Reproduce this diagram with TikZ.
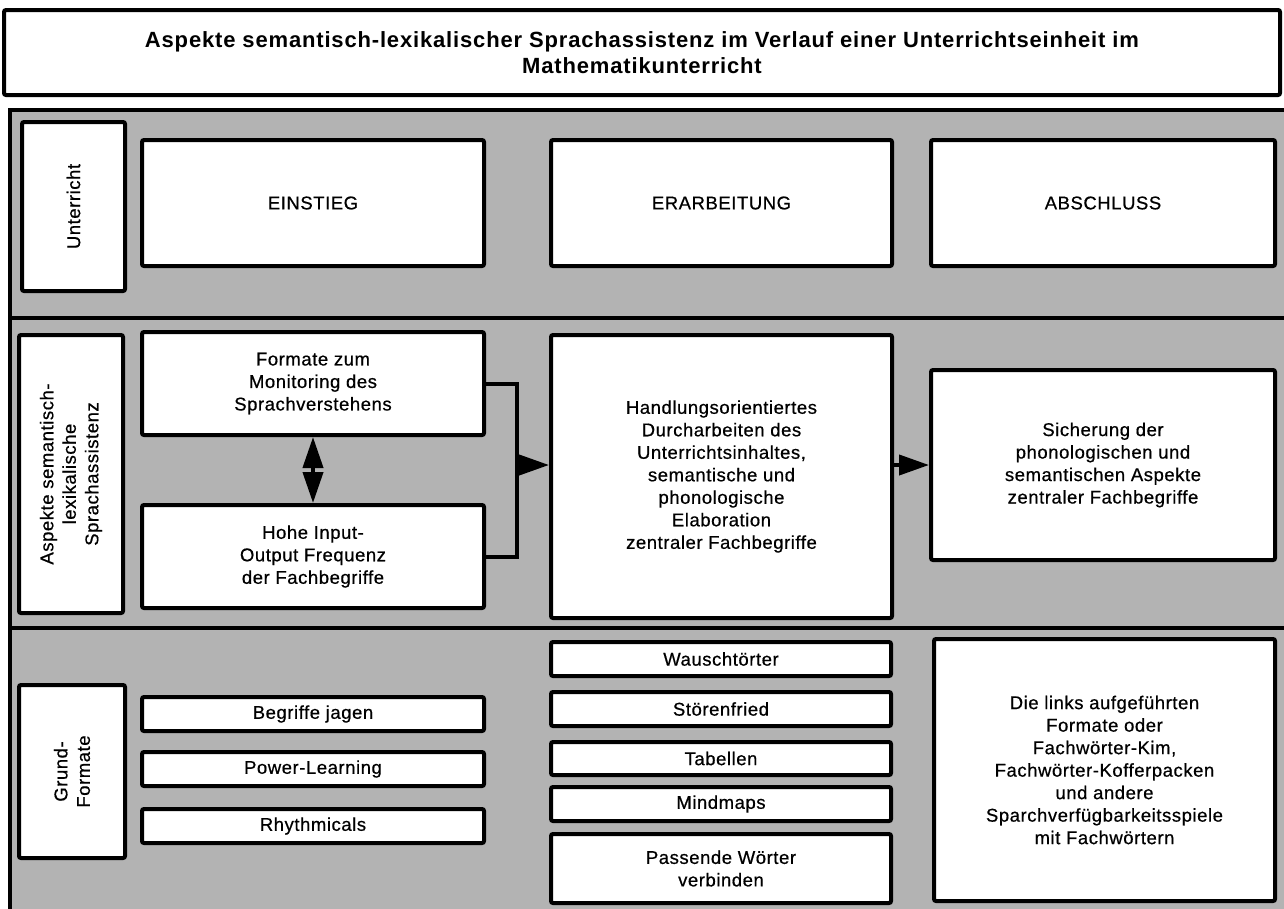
\documentclass[tikz,border=0pt]{standalone}
\usepackage{fontspec}
\setmainfont{Liberation Sans}
\newfontfamily\boxfont[LetterSpace=3,FakeBold=0.6]{Liberation Sans}
\newfontfamily\titlefont[LetterSpace=3.8]{Liberation Sans}
\usetikzlibrary{arrows.meta}
\definecolor{panelgray}{RGB}{179,179,179}

\begin{document}
\begin{tikzpicture}[
  x=1pt, y=-1pt,
  box/.style={draw, line width=4pt, fill=white, rounded corners=2pt,
    align=center, inner sep=2pt, font=\boxfont\fontsize{18.5}{22.5}\selectfont},
  sidebox/.style={box, rotate=90},
  bar/.style={line width=4.5pt},
  arr/.style={line width=4pt, -{Triangle[length=30pt,width=20pt]}},
  twoarr/.style={line width=4pt,
    {Triangle[length=31pt,width=20pt]}-{Triangle[length=31pt,width=20pt]}},
  % show background grid
  ]
  \clip (0,0) rectangle (1284,908);

  \node[box, minimum width=1276, minimum height=85,
    font=\titlefont\bfseries\fontsize{22}{25.5}\selectfont] (title) at (642,52.5)
    {Aspekte semantisch-lexikalischer Sprachassistenz im Verlauf einer Unterrichtseinheit im\\Mathematikunterricht};

  % grey panel with its three rows
  \draw[line width=4pt, fill=panelgray] (10,110) rectangle (1300,920);
  \draw[bar] (10,318) -- (1300,318);
  \draw[bar] (10,628) -- (1300,628);

  % Unterricht
  \node[sidebox, minimum width=169, minimum height=103] (unterricht) at (73.5,206.5) {Unterricht};
  \node[box, minimum width=342, minimum height=126] (einstieg) at (313,203) {EINSTIEG};
  \node[box, minimum width=341, minimum height=126] (erarbeitung) at (721.5,203) {ERARBEITUNG};
  \node[box, minimum width=344, minimum height=126] (abschluss) at (1103,203) {ABSCHLUSS};

  % Sprachassistenz
  \node[sidebox, minimum width=278, minimum height=104] (aspekte) at (71,474)
    {Aspekte semantisch-\\lexikalische\\Sprachassistenz};
  \node[box, minimum width=342, minimum height=103] (monitoring) at (313,383.5)
    {Formate zum\\Monitoring des\\Sprachverstehens};
  \node[box, minimum width=342, minimum height=103] (frequenz) at (313,556.5)
    {Hohe Input-\\Output Frequenz\\der Fachbegriffe};
  \node[box, minimum width=341, minimum height=283] (durcharbeiten) at (721.5,476.5)
    {Handlungsorientiertes\\Durcharbeiten des\\Unterrichtsinhaltes,\\semantische und\\phonologische\\Elaboration\\zentraler Fachbegriffe};
  \node[box, minimum width=344, minimum height=190] (sicherung) at (1103,465)
    {Sicherung der\\phonologischen und\\semantischen Aspekte\\zentraler Fachbegriffe};

  \coordinate (join) at (517,465);
  \draw[twoarr] (monitoring) -- (frequenz);
  \draw[line width=4pt] (monitoring.east) -| (join) |- (frequenz.east);
  \draw[arr] (join) -- (join -| durcharbeiten.west);
  \draw[arr] (durcharbeiten.east |- sicherung.west) -- (sicherung.west);

  % Grundformate
  \node[sidebox, minimum width=173, minimum height=106] (grund) at (72,771.5) {Grund-\\Formate};
  \node[box, minimum width=342, minimum height=34] (jagen) at (313,714) {Begriffe jagen};
  \node[box, minimum width=342, minimum height=34] (power) at (313,769) {Power-Learning};
  \node[box, minimum width=342, minimum height=34] (rhythm) at (313,826) {Rhythmicals};

  \node[box, minimum width=340, minimum height=34] (wausch) at (721,659) {Wauschtörter};
  \node[box, minimum width=340, minimum height=34] (stoeren) at (721,709) {Störenfried};
  \node[box, minimum width=340, minimum height=33] (tabellen) at (721,758.5) {Tabellen};
  \node[box, minimum width=340, minimum height=34] (mindmaps) at (721,804) {Mindmaps};
  \node[box, minimum width=340, minimum height=69] (passende) at (721,868.5) {Passende Wörter\\verbinden};

  \node[box, minimum width=341, minimum height=262] (spiele) at (1104.5,770)
    {Die links aufgeführten\\Formate oder\\Fachwörter-Kim,\\Fachwörter-Kofferpacken\\und andere\\Sparchverfügbarkeitsspiele\\mit Fachwörtern};

\end{tikzpicture}
\end{document}
